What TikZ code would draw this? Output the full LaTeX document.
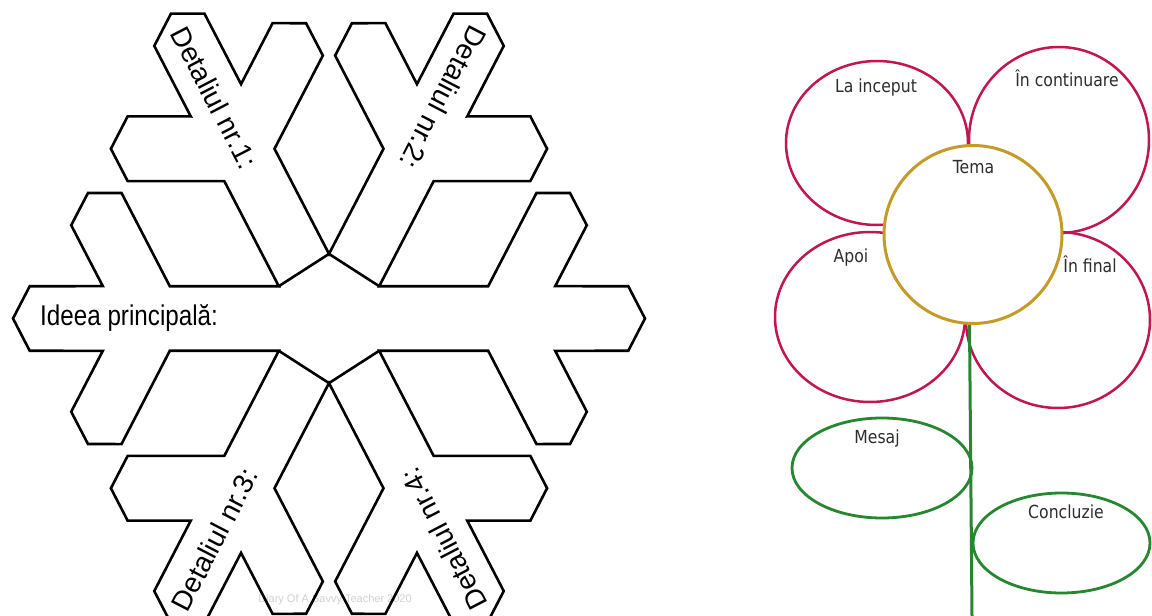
\documentclass[tikz,border=0pt]{standalone}
\usepackage{fontspec}
\setmainfont{Liberation Sans}
\newfontfamily\flowerfont[FakeStretch=0.87]{DejaVu Sans}
\newfontfamily\ideafont[FakeStretch=0.85]{Liberation Sans}
\usetikzlibrary{shapes.geometric}
\definecolor{petalc}{RGB}{192,22,82}
\definecolor{corec}{RGB}{196,154,40}
\definecolor{leafc}{RGB}{38,135,48}
\definecolor{txtc}{RGB}{45,45,45}
\begin{document}
\begin{tikzpicture}[x=1pt,y=-1pt,
  flake/.style={line width=2.6pt, draw=black, line join=miter},
  dlabel/.style={font=\fontsize{28}{32}\selectfont, inner sep=0pt},
  petal/.style={ellipse, draw=petalc, line width=2.5pt, inner sep=0pt},
  leaf/.style={ellipse, draw=leafc, line width=2.8pt, inner sep=0pt},
  flabel/.style={font=\flowerfont\fontsize{18}{20}\selectfont, text=txtc, inner sep=0pt, anchor=base}
]
\useasboundingbox (0,0) rectangle (1152,616);
\clip (0,0) rectangle (1152,616);
\fill[white] (0,0) rectangle (1152,616);

% watermark
\node[font=\fontsize{11}{12}\selectfont, text=gray!35, inner sep=0pt] (wm) at (335,600) {Diary Of A Savvy Teacher 2020};

% snowflake
\begin{scope}[shift={(329,318.5)}, yscale=1.114]
\draw[flake] (0:316)
  \foreach \a in {0,60,...,240}{
    -- (\a+5.53:300.7) -- (\a+7.31:228.05) -- (\a+17.99:271.05)
    -- (\a+25.06:266.05) -- (\a+28.51:236.13) -- (\a+10.32:161.82)
    -- (\a+30:57.97)
    -- (\a+49.68:161.82) -- (\a+31.49:236.13) -- (\a+34.94:266.05)
    -- (\a+42.01:271.05) -- (\a+52.69:228.05) -- (\a+54.47:300.7)
    -- (\a+60:316)
  }
  -- (305.53:300.7) -- (307.31:228.05) -- (317.99:271.05)
  -- (325.06:266.05) -- (328.51:236.13) -- (310.32:161.82)
  -- (330:57.97)
  -- (349.68:161.82) -- (331.49:236.13) -- (334.94:266.05)
  -- (342.01:271.05) -- (352.69:228.05) -- (354.47:300.7)
  -- cycle;
\coordinate (h30) at (30:57.97);
\coordinate (h90) at (90:57.97);
\coordinate (h150) at (150:57.97);
\coordinate (h210) at (210:57.97);
\coordinate (h270) at (270:57.97);
\coordinate (h330) at (330:57.97);
\draw[flake] (h30) -- (h90) -- (h150);
\draw[flake] (h210) -- (h270) -- (h330);
\end{scope}

\node[font=\ideafont\fontsize{28.5}{32}\selectfont, anchor=base west, inner sep=0pt] (idea) at (40,325) {Ideea principală:};
\node[dlabel, rotate=-62.6] (d1) at (214.5,97.6) {Detaliul nr.1:};
\node[dlabel, rotate=242.6] (d2) at (443.5,97.6) {Detaliul nr.2:};
\node[dlabel, rotate=62.6] (d3) at (214.5,539.4) {Detaliul nr.3:};
\node[dlabel, rotate=117.4] (d4) at (443.5,539.4) {Detaliul nr.4:};

% flower
\node[petal, minimum width=182, minimum height=164] (p1) at (877,143) {};
\node[petal, minimum width=180, minimum height=186] (p2) at (1059,140) {};
\node[petal, minimum width=190, minimum height=170] (p3) at (870,317) {};
\node[petal, minimum width=184, minimum height=176] (p4) at (1058,320) {};
\coordinate (stembot) at (972,616);
\node[circle, minimum size=178, inner sep=0pt] (tema) at (973,234.5) {};
\draw[leafc, line width=3pt] ([xshift=-3.5pt]tema.south) -- (stembot);
\node[circle, draw=corec, fill=white, line width=3pt, minimum size=178, inner sep=0pt] at (tema) {};
\node[leaf, minimum width=180, minimum height=100] (l1) at (882,468) {};
\node[leaf, minimum width=177, minimum height=100] (l2) at (1061.5,543) {};

\node[flabel] (t1) at (876,92) {La inceput};
\node[flabel] (t2) at (1067,86) {În continuare};
\node[flabel] (t3) at (973.5,173) {Tema};
\node[flabel] (t4) at (851,262) {Apoi};
\node[flabel] (t5) at (1090,272) {În final};
\node[flabel] (t6) at (877,443) {Mesaj};
\node[flabel] (t7) at (1066,518) {Concluzie};
\end{tikzpicture}
\end{document}
